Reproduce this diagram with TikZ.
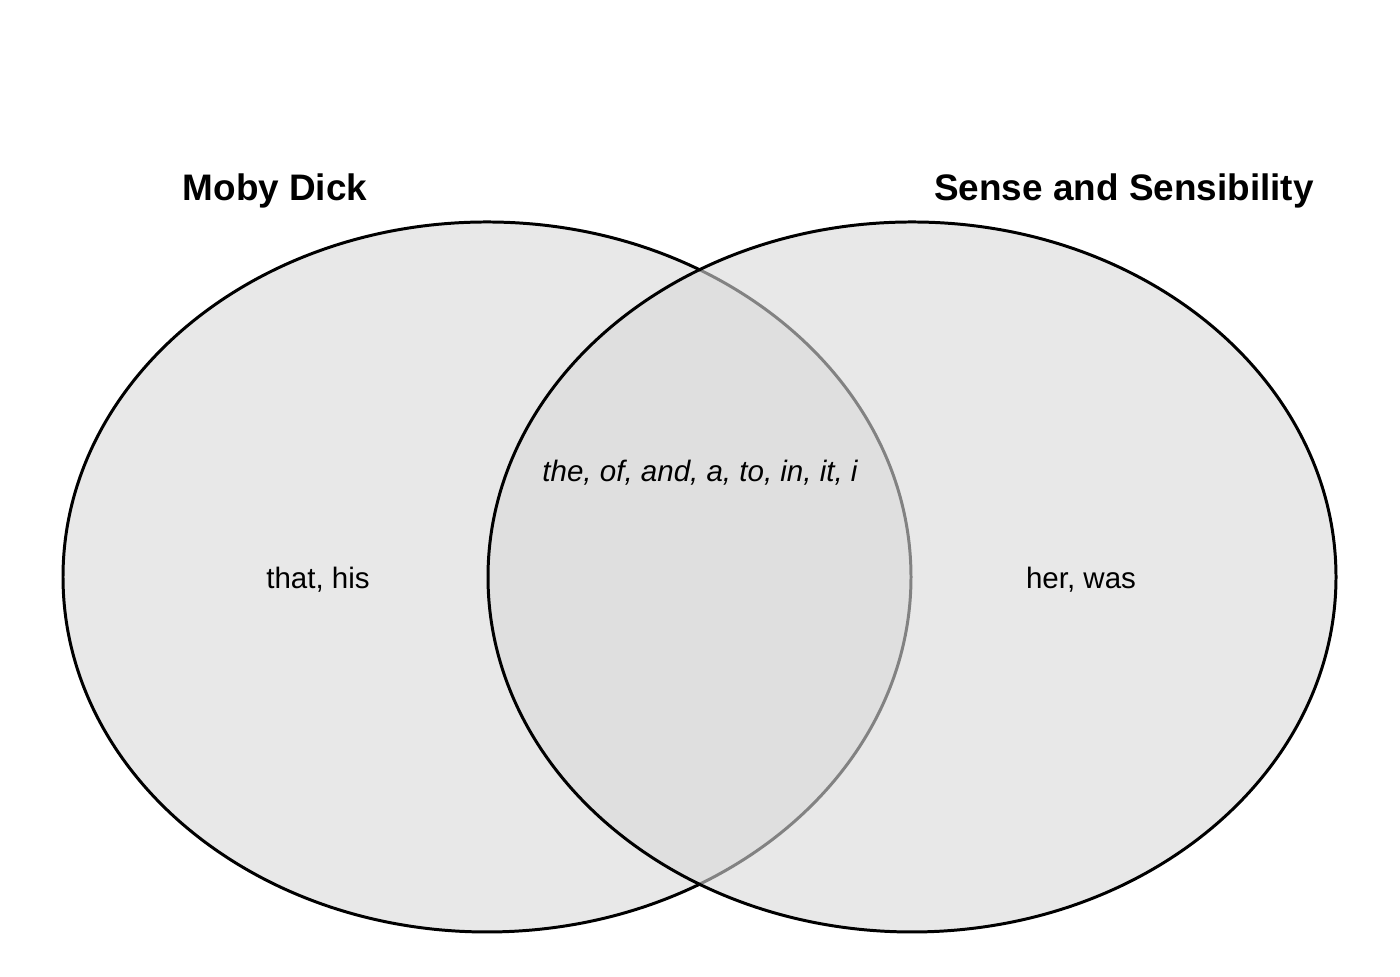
\documentclass[tikz,border=0pt]{standalone}
\usepackage{fontspec}
\setmainfont{Liberation Sans}
\usepackage{xcolor}
\definecolor{setgray}{HTML}{E8E8E8}
\definecolor{overgray}{HTML}{D9D9D9}

\begin{document}
\begin{tikzpicture}[
    settitle/.style={font=\fontsize{10.5}{12}\selectfont\bfseries},
    setword/.style={font=\fontsize{8.4}{10}\selectfont}
  ]
            \useasboundingbox (0,0) rectangle (14,9.77);

            % Moby Dick set
            \draw[line width=0.85pt, fill=setgray] (4.87,4.00) ellipse [x radius=4.24, y radius=3.55];
            \node[settitle] (moby) at (2.75,7.86) {Moby Dick};
            \node[setword] (mobyonly) at (3.18,3.97) {that, his};

            % Sense and Sensibility set
            \draw[line width=0.85pt, fill=overgray, fill opacity=0.6] (9.12,4.00) ellipse [x radius=4.24, y radius=3.55];
            \node[settitle] (sense) at (11.24,7.86) {Sense and Sensibility};
            \node[setword] (senseonly) at (10.81,3.97) {her, was};

            % Shared words
            \node[setword, font=\fontsize{8.4}{10}\selectfont\itshape] (both) at (7.00,5.04) {the, of, and, a, to, in, it, i};
        \end{tikzpicture}
\end{document}
